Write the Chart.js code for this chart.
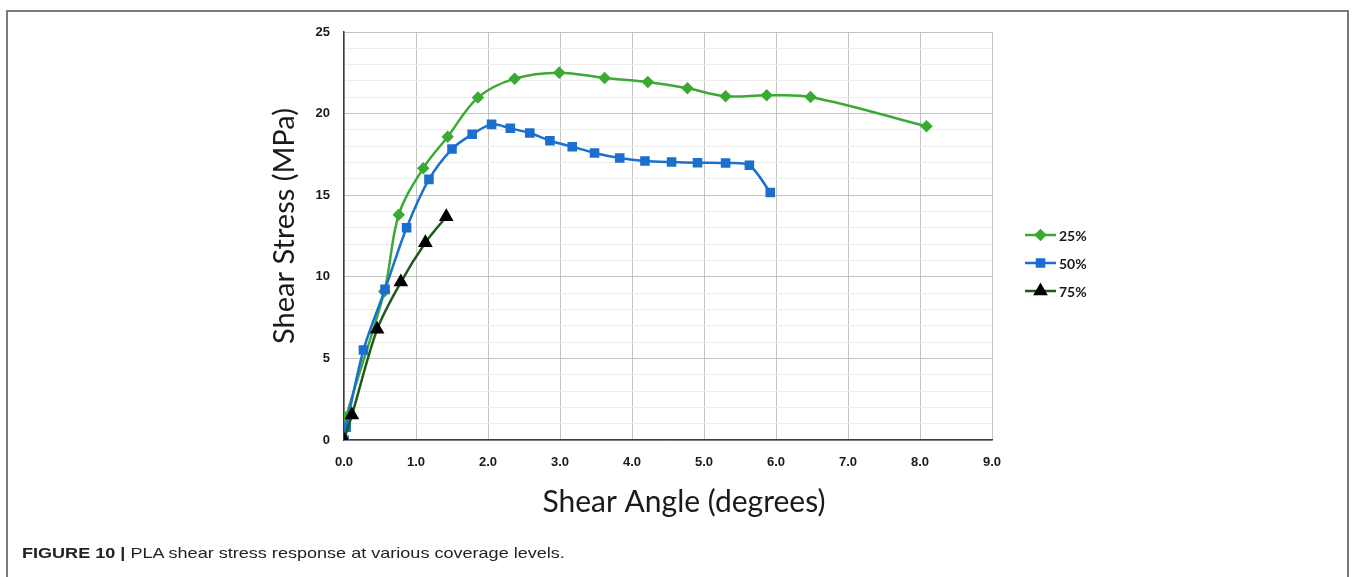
<!DOCTYPE html>
<html>
<head>
<meta charset="utf-8">
<title>PLA shear stress response</title>
<script src="https://cdn.jsdelivr.net/npm/chart.js@4.4.1/dist/chart.umd.min.js"></script>
<style>
    html, body { margin: 0; padding: 0; background: #fff; }
    #wrap { position: relative; width: 1352px; height: 577px; overflow: hidden; }
    #frame { position: absolute; left: 6px; top: 10px; width: 1343px; height: 600px;
             border: 2px solid #7a7a7a; border-bottom: none; box-sizing: border-box; }
    #chart { position: absolute; left: 0; top: 0; }
    #caption { position: absolute; left: 22px; top: 546px; font-family: "Liberation Sans", Arial, sans-serif;
               font-size: 14.5px; line-height: 14.5px; color: #222; white-space: nowrap;
               transform: scaleX(1.245); transform-origin: 0 0; }
    #caption b { font-weight: bold; }
</style>
</head>
<body>
<div id="wrap">
    <div id="frame"></div>
    <canvas id="chart" width="1352" height="577"></canvas>
    <div id="caption"><b>FIGURE 10 |</b> PLA shear stress response at various coverage levels.</div>
</div>
<script>
// values (angle in degrees, stress in MPa)
const angle25 = [0, 0.03, 0.56, 0.76, 1.10, 1.44, 1.86, 2.37, 2.99, 3.62, 4.22, 4.77, 5.30, 5.87, 6.48, 8.09];
const stress25 = [0, 1.4, 9.1, 13.8, 16.65, 18.58, 20.98, 22.14, 22.51, 22.18, 21.94, 21.55, 21.06, 21.12, 21.02, 19.22];

const angle50 = [0, 0.03, 0.27, 0.57, 0.87, 1.18, 1.50, 1.78, 2.05, 2.31, 2.58, 2.86, 3.17, 3.48, 3.83, 4.18, 4.55, 4.91, 5.30, 5.63, 5.92];
const stress50 = [0, 0.78, 5.51, 9.23, 13.01, 15.97, 17.83, 18.73, 19.34, 19.10, 18.81, 18.34, 17.97, 17.59, 17.28, 17.10, 17.03, 16.99, 16.97, 16.83, 15.17];

const angle75 = [0, 0.11, 0.46, 0.79, 1.13, 1.42];
const stress75 = [0, 1.53, 6.78, 9.68, 12.09, 13.68];

const seriesLabels = ["25%", "50%", "75%"];
const xTicks = [0, 1, 2, 3, 4, 5, 6, 7, 8, 9];
const yTicks = [0, 5, 10, 15, 20, 25];

const xTitle = "Shear Angle (degrees)";
const yTitle = "Shear Stress (MPa)";

function toPoints(xs, ys) {
    return xs.map((x, i) => ({ x: x, y: ys[i] }));
}

// axis titles + legend drawn on the canvas
const extras = {
    id: "extras",
    afterDraw(chart) {
        const ctx = chart.ctx;
        ctx.save();
        ctx.fillStyle = "#1a1a1a";
        ctx.textAlign = "center";
        ctx.textBaseline = "middle";
        ctx.font = "30px Lato";
        ctx.fillText(xTitle, 684, 502);
        ctx.font = "29px Lato";
        ctx.translate(285, 226);
        ctx.rotate(-Math.PI / 2);
        ctx.fillText(yTitle, 0, 0);
        ctx.restore();

        // legend
        const rows = [235, 263, 291];
        chart.data.datasets.forEach((ds, i) => {
            const y = rows[i];
            ctx.save();
            ctx.strokeStyle = ds.borderColor;
            ctx.lineWidth = 2.5;
            ctx.beginPath();
            ctx.moveTo(1025, y);
            ctx.lineTo(1056, y);
            ctx.stroke();
            ctx.fillStyle = ds.pointBackgroundColor;
            ctx.strokeStyle = ds.pointBorderColor;
            Chart.helpers.drawPoint(ctx, {
                pointStyle: ds.pointStyle,
                radius: ds.pointRadius,
                rotation: 0,
                borderWidth: 1
            }, 1040.5, y);
            ctx.fillStyle = "#1a1a1a";
            ctx.font = "bold 14px Lato";
            ctx.textAlign = "left";
            ctx.textBaseline = "middle";
            ctx.fillText(ds.label, 1059, y + 1);
            ctx.restore();
        });
    }
};

const ctx = document.getElementById("chart").getContext("2d");
new Chart(ctx, {
    type: "scatter",
    data: {
        datasets: [{
            label: seriesLabels[0],
            data: toPoints(angle25, stress25),
            showLine: true,
            borderColor: "#3aaa35",
            borderWidth: 2.5,
            pointStyle: "rectRot",
            pointRadius: 4.5,
            pointBackgroundColor: "#3aaa35",
            pointBorderColor: "#3aaa35",
            tension: 0.35,
            order: 3
        }, {
            label: seriesLabels[1],
            data: toPoints(angle50, stress50),
            showLine: true,
            borderColor: "#1b6fcf",
            borderWidth: 2.5,
            pointStyle: "rect",
            pointRadius: 5,
            pointBackgroundColor: "#1b6fcf",
            pointBorderColor: "#1b6fcf",
            tension: 0.3,
            order: 2
        }, {
            label: seriesLabels[2],
            data: toPoints(angle75, stress75),
            showLine: true,
            borderColor: "#1e5a1e",
            borderWidth: 2.5,
            pointStyle: "triangle",
            pointRadius: 6,
            pointBackgroundColor: "#000000",
            pointBorderColor: "#000000",
            tension: 0.3,
            order: 1
        }]
    },
    options: {
        responsive: false,
        animation: false,
        devicePixelRatio: 1,
        layout: {
            padding: { left: 268, right: 360, top: 32, bottom: 47 }
        },
        plugins: {
            legend: { display: false },
            tooltip: { enabled: false }
        },
        scales: {
            x: {
                type: "linear",
                min: xTicks[0],
                max: xTicks[xTicks.length - 1],
                afterFit(scale) { scale.height = 90; },
                afterBuildTicks(scale) { scale.ticks = xTicks.map(v => ({ value: v })); },
                ticks: {
                    autoSkip: false,
                    maxRotation: 0,
                    padding: 15,
                    color: "#1a1a1a",
                    font: { family: "Liberation Sans", size: 13, weight: "bold" },
                    callback: v => v.toFixed(1)
                },
                grid: { color: "#c4c4c4", lineWidth: 1, drawTicks: false },
                border: { color: "#3c3c3c", width: 1.5 }
            },
            y: {
                type: "linear",
                min: yTicks[0],
                max: yTicks[yTicks.length - 1],
                afterFit(scale) { scale.width = 76; },
                ticks: {
                    stepSize: 1,
                    autoSkip: false,
                    padding: 14,
                    color: "#1a1a1a",
                    font: { family: "Liberation Sans", size: 13, weight: "bold" },
                    callback: v => (yTicks.includes(v) ? String(v) : "")
                },
                grid: {
                    color: c => (yTicks.includes(c.tick.value) ? "#c4c4c4" : "#ececec"),
                    lineWidth: 1,
                    drawTicks: false
                },
                border: { color: "#3c3c3c", width: 1.5 }
            }
        }
    },
    plugins: [extras]
});
</script>
</body>
</html>
